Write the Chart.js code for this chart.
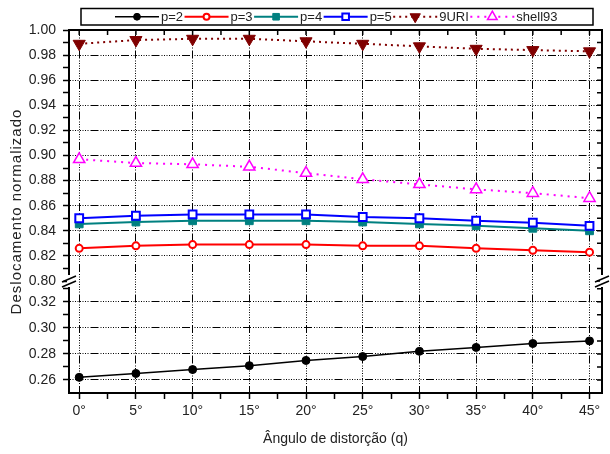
<!DOCTYPE html>
<html><head><meta charset="utf-8">
<script src="https://cdn.jsdelivr.net/npm/chart.js@4/dist/chart.umd.min.js"></script>
<style>html,body{margin:0;padding:0;background:#fff;} #wrap{width:610px;height:454px;position:relative;}</style>
</head><body><div id="wrap"><canvas id="c" width="610" height="454"></canvas></div>
<script>
// ---- data ----
const angles = [0, 5, 10, 15, 20, 25, 30, 35, 40, 45];
const xTickLabels = ['0°', '5°', '10°', '15°', '20°', '25°', '30°', '35°', '40°', '45°'];
const p2 = [0.262, 0.265, 0.268, 0.271, 0.275, 0.278, 0.282, 0.285, 0.288, 0.290];
const p3 = [0.826, 0.828, 0.829, 0.829, 0.829, 0.828, 0.828, 0.826, 0.8245, 0.823];
const p4 = [0.8455, 0.847, 0.848, 0.848, 0.848, 0.847, 0.8455, 0.844, 0.842, 0.840];
const p5 = [0.850, 0.852, 0.853, 0.853, 0.853, 0.851, 0.850, 0.848, 0.8465, 0.844];
const uri9 = [0.989, 0.992, 0.993, 0.993, 0.991, 0.989, 0.987, 0.985, 0.984, 0.983];
const shell93 = [0.897, 0.894, 0.893, 0.891, 0.886, 0.881, 0.877, 0.873, 0.870, 0.866];
const yTopTickLabels = [0.80, 0.82, 0.84, 0.86, 0.88, 0.90, 0.92, 0.94, 0.96, 0.98, 1.00];
const yBotTickLabels = [0.26, 0.28, 0.30, 0.32];
const seriesLabels = ['p=2', 'p=3', 'p=4', 'p=5', '9URI', 'shell93'];
const xTitle = 'Ângulo de distorção (q)';
const yTitle = 'Deslocamento normalizado';

// ---- helpers ----
const FONT = '"Liberation Sans", Arial, sans-serif';
const near = (a, b) => Math.abs(a - b) < 1e-6;
const inList = (v, arr) => arr.some(a => near(a, v));
const xAllTicks = []; for (let v = 0; v <= 45.0001; v += 2.5) xAllTicks.push(+v.toFixed(2));
const yTopAll = []; for (let k = 80; k <= 100; k++) yTopAll.push(k / 100);
const yBotAll = []; for (let k = 26; k <= 33; k++) yBotAll.push(k / 100);
const GRID_DASH = [1,1.5,1,1.5,1,1.5,1,1.5,1,1.5,1,1.5,1,1.5,1,2,8,2];
const pts = arr => angles.map((a, i) => ({x: a, y: arr[i]}));

function yScale(all, labels, weight, min, max, gridExclude) {
  return {
    type: 'linear', position: 'left', stack: 'y', stackWeight: weight, min: min, max: max,
    afterBuildTicks: s => { s.ticks = all.map(v => ({value: v})); },
    afterFit: s => { s.width = 69; },
    ticks: {
      autoSkip: false, padding: 7, color: '#222', font: {family: FONT, size: 14},
      callback: v => inList(v, labels) ? v.toFixed(2) : ''
    },
    grid: {
      color: c => (c.tick && inList(c.tick.value, labels) && !inList(c.tick.value, gridExclude)) ? '#000' : 'rgba(0,0,0,0)',
      lineWidth: 1, tickLength: 6, tickColor: '#000', tickWidth: 1.5, drawTicks: true
    },
    border: {display: true, color: '#000', width: 2, dash: GRID_DASH}
  };
}

const framePlugin = {
  id: 'frame',
  afterDraw(chart) {
    const ctx = chart.ctx, a = chart.chartArea;
    const sx = chart.scales.x, yt = chart.scales.yTop, yb = chart.scales.yBot;
    ctx.save();
    ctx.strokeStyle = '#000';
    ctx.lineWidth = 2;
    ctx.beginPath();
    ctx.moveTo(a.left, a.top); ctx.lineTo(a.right, a.top); ctx.lineTo(a.right, a.bottom);
    ctx.stroke();
    // inward mirror ticks
    ctx.lineWidth = 1.5;
    ctx.beginPath();
    xAllTicks.forEach(v => { const px = sx.getPixelForValue(v); ctx.moveTo(px, a.top); ctx.lineTo(px, a.top + 5); });
    yTopAll.forEach(v => { const py = yt.getPixelForValue(v); ctx.moveTo(a.right, py); ctx.lineTo(a.right - 5, py); });
    yBotAll.forEach(v => { const py = yb.getPixelForValue(v); ctx.moveTo(a.right, py); ctx.lineTo(a.right - 5, py); });
    ctx.stroke();
    // axis break marks
    const by = yt.bottom;
    [a.left, a.right].forEach(bx => {
      ctx.fillStyle = '#fff';
      ctx.fillRect(bx - 2, by - 6, 4, 12);
      ctx.strokeStyle = '#000'; ctx.lineWidth = 1.5;
      ctx.beginPath();
      ctx.moveTo(bx - 7, by + 1); ctx.lineTo(bx + 7, by - 5);
      ctx.moveTo(bx - 7, by + 6); ctx.lineTo(bx + 7, by);
      ctx.stroke();
    });
    // axis titles
    ctx.fillStyle = '#222';
    ctx.textAlign = 'center'; ctx.textBaseline = 'middle';
    ctx.save();
    ctx.font = '15px ' + FONT;
    ctx.letterSpacing = '1px';
    ctx.translate(17, (a.top + a.bottom) / 2);
    ctx.rotate(-Math.PI / 2);
    ctx.fillText(yTitle, 0, 0);
    ctx.restore();
    ctx.font = '14px ' + FONT;
    ctx.fillText(xTitle, (a.left + a.right) / 2, 439);
    // legend
    const bx0 = 81, by0 = 8.5, bw = 512, bh = 16.5;
    ctx.fillStyle = '#fff'; ctx.fillRect(bx0, by0, bw, bh);
    ctx.strokeStyle = '#000'; ctx.lineWidth = 1.5; ctx.strokeRect(bx0, by0, bw, bh);
    ctx.font = '13px ' + FONT;
    const lineLen = 44, gapT = 2, gapN = 1.5;
    const dss = chart.data.datasets;
    const widths = dss.map(d => ctx.measureText(d.label).width);
    const total = widths.reduce((s, w) => s + lineLen + gapT + w + gapN, 0);
    let x = bx0 + (bw - total) / 2;
    const cy = by0 + bh / 2;
    dss.forEach((d, i) => {
      ctx.save();
      ctx.strokeStyle = d.borderColor; ctx.lineWidth = d.borderWidth;
      ctx.setLineDash(d.borderDash || []);
      ctx.beginPath(); ctx.moveTo(x, cy); ctx.lineTo(x + lineLen, cy); ctx.stroke();
      ctx.restore();
      ctx.save();
      ctx.setLineDash([]);
      ctx.fillStyle = d.pointBackgroundColor; ctx.strokeStyle = d.pointBorderColor; ctx.lineWidth = d.pointBorderWidth;
      Chart.helpers.drawPoint(ctx, {pointStyle: d.pointStyle, rotation: d.pointRotation || 0, radius: d.pointRadius * 0.85, borderWidth: d.pointBorderWidth}, x + lineLen / 2, cy);
      ctx.restore();
      ctx.fillStyle = '#222'; ctx.textAlign = 'left'; ctx.textBaseline = 'middle';
      ctx.fillText(d.label, x + lineLen + gapT, cy + 1);
      x += lineLen + gapT + widths[i] + gapN;
    });
    ctx.restore();
  }
};

new Chart(document.getElementById('c'), {
  type: 'line',
  data: {
    datasets: [
      {label: seriesLabels[0], data: pts(p2), yAxisID: 'yBot', borderColor: '#000000', backgroundColor: '#000000', borderWidth: 1.5,
       pointStyle: 'circle', pointRadius: 4, pointBackgroundColor: '#000000', pointBorderColor: '#000000', pointBorderWidth: 1, order: 0},
      {label: seriesLabels[1], data: pts(p3), yAxisID: 'yTop', borderColor: '#ff0000', backgroundColor: '#ff0000', borderWidth: 2,
       pointStyle: 'circle', pointRadius: 3.5, pointBackgroundColor: '#ffffff', pointBorderColor: '#ff0000', pointBorderWidth: 2, order: 1},
      {label: seriesLabels[2], data: pts(p4), yAxisID: 'yTop', borderColor: '#008080', backgroundColor: '#008080', borderWidth: 2,
       pointStyle: 'rect', pointRadius: 5.5, pointBackgroundColor: '#008080', pointBorderColor: '#008080', pointBorderWidth: 1, order: 3},
      {label: seriesLabels[3], data: pts(p5), yAxisID: 'yTop', borderColor: '#0000ff', backgroundColor: '#0000ff', borderWidth: 2,
       pointStyle: 'rect', pointRadius: 5.5, pointBackgroundColor: '#ffffff', pointBorderColor: '#0000ff', pointBorderWidth: 2, order: 2},
      {label: seriesLabels[4], data: pts(uri9), yAxisID: 'yTop', borderColor: '#800000', backgroundColor: '#800000', borderWidth: 2, borderDash: [2, 4],
       pointStyle: 'triangle', pointRotation: 180, pointRadius: 7, pointBackgroundColor: '#800000', pointBorderColor: '#800000', pointBorderWidth: 1, order: 4},
      {label: seriesLabels[5], data: pts(shell93), yAxisID: 'yTop', borderColor: '#ff00ff', backgroundColor: '#ff00ff', borderWidth: 2, borderDash: [2, 5],
       pointStyle: 'triangle', pointRadius: 6.5, pointBackgroundColor: '#ffffff', pointBorderColor: '#ff00ff', pointBorderWidth: 1.5, order: 5}
    ]
  },
  options: {
    responsive: false, animation: false,
    layout: {padding: {left: 0, top: 30, right: 5, bottom: 0}},
    plugins: {legend: {display: false}, tooltip: {enabled: false}},
    scales: {
      x: {
        type: 'linear', min: -0.9, max: 46.1,
        afterBuildTicks: s => { s.ticks = xAllTicks.map(v => ({value: v})); },
        afterFit: s => { s.height = 61; },
        ticks: {
          autoSkip: false, maxRotation: 0, padding: 4, color: '#222', font: {family: FONT, size: 14},
          callback: v => { const i = angles.findIndex(a => near(a, v)); return i >= 0 ? xTickLabels[i] : ''; }
        },
        grid: {
          color: c => (c.tick && inList(c.tick.value, angles)) ? '#000' : 'rgba(0,0,0,0)',
          lineWidth: 1, tickLength: 6, tickColor: '#000', tickWidth: 1.5
        },
        border: {display: true, color: '#000', width: 2, dash: GRID_DASH}
      },
      yBot: yScale(yBotAll, yBotTickLabels, 112, 0.25, 0.336, []),
      yTop: yScale(yTopAll, yTopTickLabels, 251, 0.80, 1.00, [0.80, 1.00])
    }
  },
  plugins: [framePlugin]
});
</script>
</body></html>
